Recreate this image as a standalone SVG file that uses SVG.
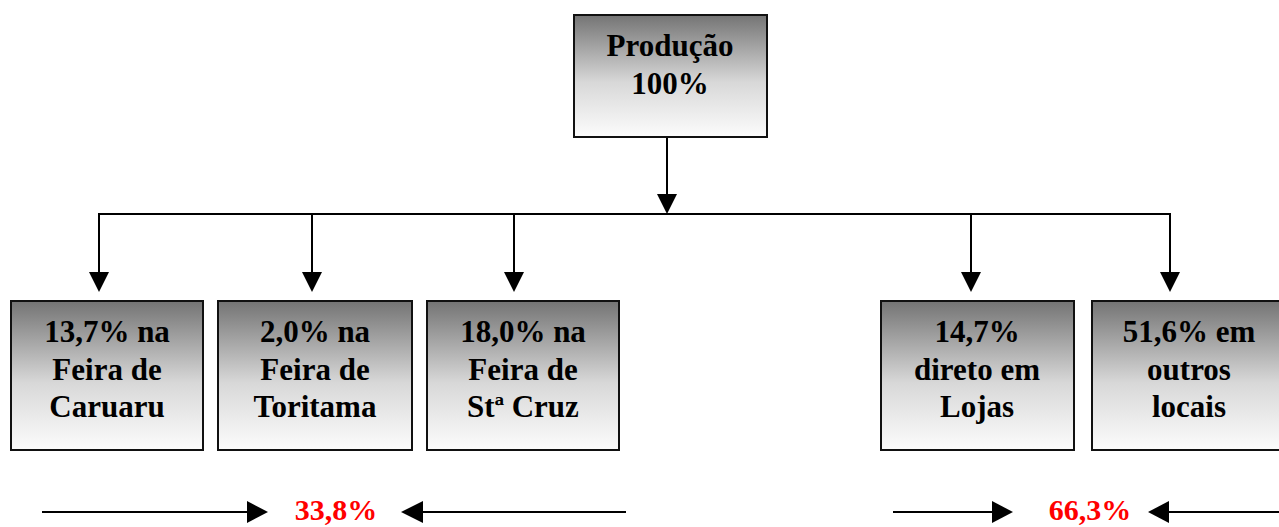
<svg xmlns="http://www.w3.org/2000/svg" width="1279" height="527" viewBox="0 0 1279 527">
<style>
.box{stroke:#111;stroke-width:2;fill:url(#g)}
.t{font-family:"Liberation Serif","Times New Roman",serif;font-weight:bold;font-size:31px;fill:#000;text-anchor:middle}
.r{font-family:"Liberation Serif","Times New Roman",serif;font-weight:bold;font-size:30px;fill:#ff0000;text-anchor:middle}
.ln{stroke:#000;stroke-width:2;fill:none}
.ah{fill:#000}
</style>
<defs>
<linearGradient id="g" x1="0" y1="0" x2="0" y2="1">
<stop offset="0" stop-color="#747474"/>
<stop offset="0.55" stop-color="#d8d8d8"/>
<stop offset="1" stop-color="#fcfcfc"/>
</linearGradient>
</defs>
<rect width="1279" height="527" fill="#fff"/>
<g id="connectors">
<line class="ln" x1="667" y1="137" x2="667" y2="196"/>
<polygon class="ah" points="657,194 677,194 667,214"/>
<line class="ln" x1="98" y1="214" x2="1171" y2="214"/>
<line class="ln" x1="99" y1="214" x2="99" y2="274"/>
<polygon class="ah" points="89,272 109,272 99,292"/>
<line class="ln" x1="312" y1="214" x2="312" y2="274"/>
<polygon class="ah" points="302,272 322,272 312,292"/>
<line class="ln" x1="514" y1="214" x2="514" y2="274"/>
<polygon class="ah" points="504,272 524,272 514,292"/>
<line class="ln" x1="971" y1="214" x2="971" y2="274"/>
<polygon class="ah" points="961,272 981,272 971,292"/>
<line class="ln" x1="1170" y1="214" x2="1170" y2="274"/>
<polygon class="ah" points="1160,272 1180,272 1170,292"/>
<line class="ln" x1="42" y1="512" x2="250" y2="512"/>
<polygon class="ah" points="247,501 247,523 268,512"/>
<line class="ln" x1="420" y1="512" x2="626" y2="512"/>
<polygon class="ah" points="423,501 423,523 401,512"/>
<line class="ln" x1="893" y1="512" x2="995" y2="512"/>
<polygon class="ah" points="992,501 992,523 1013,512"/>
<line class="ln" x1="1166" y1="512" x2="1279" y2="512"/>
<polygon class="ah" points="1169,501 1169,523 1148,512"/>
</g>
<g id="producao">
<rect class="box" x="574" y="15" width="193" height="122"/>
<text class="t" x="670" y="56">Produção</text>
<text class="t" x="670" y="94">100%</text>
</g>
<g id="caruaru">
<rect class="box" x="11" y="301" width="192" height="149"/>
<text class="t" x="107" y="342">13,7% na</text>
<text class="t" x="107" y="380">Feira de</text>
<text class="t" x="107" y="417">Caruaru</text>
</g>
<g id="toritama">
<rect class="box" x="218" y="301" width="194" height="149"/>
<text class="t" x="315" y="342">2,0% na</text>
<text class="t" x="315" y="380">Feira de</text>
<text class="t" x="315" y="417">Toritama</text>
</g>
<g id="stacruz">
<rect class="box" x="427" y="301" width="192" height="149"/>
<text class="t" x="523" y="342">18,0% na</text>
<text class="t" x="523" y="380">Feira de</text>
<text class="t" x="523" y="417">Stª Cruz</text>
</g>
<g id="lojas">
<rect class="box" x="881" y="301" width="193" height="149"/>
<text class="t" x="977" y="342">14,7%</text>
<text class="t" x="977" y="380">direto em</text>
<text class="t" x="977" y="417">Lojas</text>
</g>
<g id="outros">
<rect class="box" x="1092" y="301" width="196" height="149"/>
<text class="t" x="1189" y="342">51,6% em</text>
<text class="t" x="1189" y="380">outros</text>
<text class="t" x="1189" y="417">locais</text>
</g>
<g id="totals">
<text class="r" x="336" y="520">33,8%</text>
<text class="r" x="1090" y="520">66,3%</text>
</g>
</svg>
